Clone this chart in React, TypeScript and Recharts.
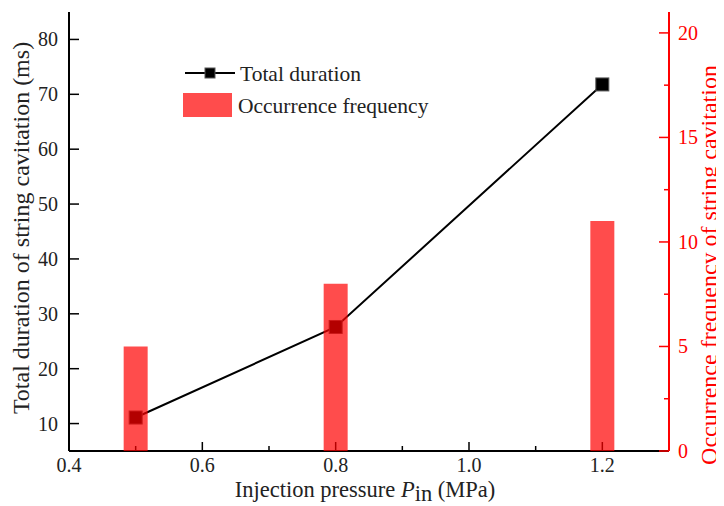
import { ComposedChart, Bar, Line, XAxis, YAxis } from "recharts";

// values
const pressure = [0.5, 0.8, 1.2];
const duration = [11.1, 27.6, 71.8];
const frequency = [5, 8, 11];

const xTicks = [0.4, 0.5, 0.6, 0.7, 0.8, 0.9, 1.0, 1.1, 1.2];
const xMajor = ["0.4", "0.6", "0.8", "1.0", "1.2"];
const leftTicks = [10, 20, 30, 40, 50, 60, 70, 80];
const rightTicks = [0, 2.5, 5, 7.5, 10, 12.5, 15, 17.5, 20];

const data = pressure.map((p, i) => ({ p, duration: duration[i], freq: frequency[i] }));

const W = 716;
const H = 498;
const MARGIN = { top: 4, right: 0, bottom: 0, left: 0 };
const FONT = '"Liberation Serif", "Times New Roman", serif';
const RED = "#ff0000";
const TEXT = "#222";

const BottomTick = ({ x, y, payload }: any) => {
  const label = Number(payload.value).toFixed(1);
  const major = xMajor.includes(label);
  return (
    <g>
      <line x1={x} x2={x} y1={y} y2={y - (major ? 9 : 5)} stroke="#000" strokeWidth={1.5} />
      {major && (
        <text x={x} y={y + 21} textAnchor="middle" fontSize={20} fontFamily={FONT} fill={TEXT}>
          {label}
        </text>
      )}
    </g>
  );
};

const LeftTick = ({ x, y, payload }: any) => (
  <g>
    <line x1={x} x2={x + 10} y1={y} y2={y} stroke="#000" strokeWidth={1.5} />
    <text x={x - 11} y={y} dy="0.35em" textAnchor="end" fontSize={20} fontFamily={FONT} fill={TEXT}>
      {payload.value}
    </text>
  </g>
);

const RightTick = ({ x, y, payload }: any) => {
  const major = payload.value % 5 === 0;
  return (
    <g>
      <line x1={x} x2={x - (major ? 10 : 5)} y1={y} y2={y} stroke={RED} strokeWidth={1.5} />
      {major && (
        <text x={x + 9} y={y} dy="0.35em" textAnchor="start" fontSize={20} fontFamily={FONT} fill={RED}>
          {payload.value}
        </text>
      )}
    </g>
  );
};

const SquareDot = ({ cx, cy }: any) => (
  <rect x={cx - 6.5} y={cy - 6.5} width={13} height={13} fill="#000" stroke="#555" strokeWidth={1} />
);

// titles + legend drawn over the chart
const Overlay = () => (
  <svg width={W} height={H} style={{ position: "absolute", left: 0, top: 0, pointerEvents: "none" }}>
    <text transform="translate(21,220) rotate(-90)" textAnchor="middle" fontSize={24} fontFamily={FONT} fill={TEXT}>
      Total duration of string cavitation (ms)
    </text>
    <text transform="translate(709,257) rotate(-90)" textAnchor="middle" fontSize={24} fontFamily={FONT} fill={RED}>
      Occurrence frequency of string cavitation
    </text>
    <text x={357} y={489} textAnchor="middle" fontSize={22.5} fontFamily={FONT} fill={TEXT}>
      Injection pressure <tspan fontStyle="italic">P</tspan>
      <tspan dy={4}>in</tspan>
      <tspan dy={-4}> (MPa)</tspan>
    </text>
    <g transform="translate(175,55)">
      <line x1={2} x2={52} y1={10} y2={10} stroke="#000" strokeWidth={2} />
      <rect x={22} y={5} width={10} height={10} fill="#000" stroke="#555" />
      <text x={57} y={10} dy="0.35em" fontSize={21.5} fontFamily={FONT} fill={TEXT}>
        Total duration
      </text>
      <rect x={0} y={30} width={49} height={24} fill={RED} fillOpacity={0.7} />
      <text x={55} y={42} dy="0.35em" fontSize={21.5} fontFamily={FONT} fill={TEXT}>
        Occurrence frequency
      </text>
    </g>
  </svg>
);

export default function App() {
  return (
    <div style={{ position: "relative", width: W, height: H, fontFamily: FONT }}>
      <ComposedChart width={W} height={H} data={data} margin={MARGIN}>
        <XAxis
          xAxisId="top"
          orientation="top"
          dataKey="p"
          type="number"
          domain={[0.4, 1.3]}
          height={0}
          tick={false}
          tickLine={false}
          axisLine={{ stroke: "#000", strokeWidth: 2 }}
        />
        <XAxis
          dataKey="p"
          type="number"
          domain={[0.4, 1.3]}
          ticks={xTicks}
          interval={0}
          height={55}
          tickSize={0}
          tickMargin={0}
          tickLine={false}
          tick={<BottomTick />}
          axisLine={{ stroke: "#000", strokeWidth: 2 }}
        />
        <YAxis
          yAxisId="left"
          domain={[5, 85]}
          ticks={leftTicks}
          interval={0}
          width={61}
          tickSize={0}
          tickMargin={0}
          tickLine={false}
          tick={<LeftTick />}
          axisLine={{ stroke: "#000", strokeWidth: 2 }}
        />
        <YAxis yAxisId="right" orientation="right" domain={[0, 21]} width={55} tick={false} tickLine={false} axisLine={false} />
        <Line
          yAxisId="left"
          dataKey="duration"
          stroke="#000"
          strokeWidth={2}
          dot={<SquareDot />}
          activeDot={false}
          isAnimationActive={false}
        />
      </ComposedChart>

      {/* bars (and their red axis) sit on top of the line, as in the reference */}
      <div style={{ position: "absolute", left: 0, top: 0, pointerEvents: "none" }}>
        <ComposedChart width={W} height={H} data={data} margin={MARGIN}>
          <XAxis xAxisId="top" orientation="top" dataKey="p" type="number" domain={[0.4, 1.3]} height={0} tick={false} tickLine={false} axisLine={false} />
          <XAxis dataKey="p" type="number" domain={[0.4, 1.3]} ticks={xTicks} height={55} tick={false} tickLine={false} axisLine={false} />
          <YAxis yAxisId="left" domain={[5, 85]} width={61} tick={false} tickLine={false} axisLine={false} />
          <YAxis
            yAxisId="right"
            orientation="right"
            domain={[0, 21]}
            ticks={rightTicks}
            interval={0}
            width={55}
            tickSize={0}
            tickMargin={0}
            tickLine={false}
            tick={<RightTick />}
            axisLine={{ stroke: RED, strokeWidth: 2 }}
          />
          <Bar yAxisId="right" dataKey="freq" barSize={24} fill={RED} fillOpacity={0.7} isAnimationActive={false} />
        </ComposedChart>
      </div>

      <Overlay />
    </div>
  );
}
